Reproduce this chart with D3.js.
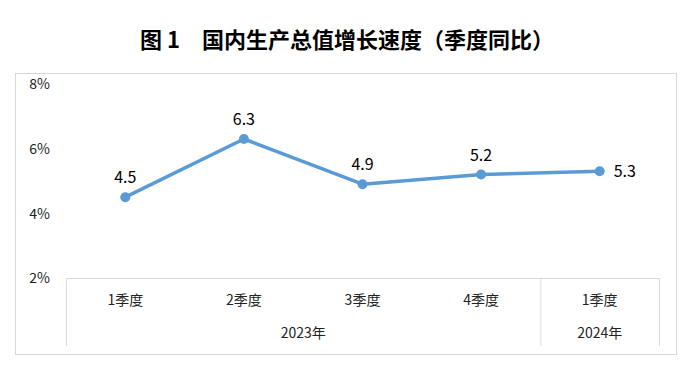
<!DOCTYPE html>
<html><head><meta charset="utf-8">
<script src="https://cdn.jsdelivr.net/npm/d3@7"></script>
<style>body{margin:0;background:#fff}</style>
</head><body>
<svg id="c" width="695" height="371"></svg>
<script>
const quarters = ["1季度","2季度","3季度","4季度","1季度"];
const years = [{label:"2023年", count:4},{label:"2024年", count:1}];
const values = [4.5, 6.3, 4.9, 5.2, 5.3];
const yTicks = [2, 4, 6, 8];
const title = "图 1　国内生产总值增长速度（季度同比）";

const svg = d3.select("#c");
const cjk = "'Noto Sans CJK SC', sans-serif";

svg.append("text").attr("x", 347).attr("y", 48).attr("text-anchor","middle")
  .attr("font-family", "'Noto Sans CJK SC', serif").attr("font-weight","bold")
  .attr("font-size", 22).attr("fill","#000").text(title);

svg.append("rect").attr("x",15.5).attr("y",73.5).attr("width",661).attr("height",281)
  .attr("fill","none").attr("stroke","#d9d9d9");

const x0 = 66, x1 = 659, yTop = 84, yBot = 278;
const x = d3.scaleBand().domain(d3.range(quarters.length)).range([x0, x1]).padding(0);
const y = d3.scaleLinear().domain([2, 8]).range([yBot, yTop]);

const yAxis = d3.axisLeft(y).tickValues(yTicks).tickFormat(d => d + "%").tickSize(0).tickPadding(0);
const ya = svg.append("g").attr("transform", "translate(50,0)").call(yAxis);
ya.select(".domain").remove();
ya.selectAll("text").attr("font-family", cjk).attr("font-size", 14).attr("fill","#222")
  .attr("dy","0.35em");

const g = svg.append("g").attr("stroke","#d9d9d9").attr("fill","none");
g.append("line").attr("x1",x0).attr("x2",x1).attr("y1",yBot+0.5).attr("y2",yBot+0.5);
let idx = 0;
const bounds = [0];
years.forEach(yr => { idx += yr.count; bounds.push(idx); });
bounds.forEach(b => {
  const xx = (b < quarters.length ? x(b) : x1) + 0.5;
  g.append("line").attr("x1",xx).attr("x2",xx).attr("y1",yBot).attr("y2",346);
});

svg.append("g").selectAll("text").data(quarters).join("text")
  .attr("x",(d,i)=>x(i)+x.bandwidth()/2).attr("y",305).attr("text-anchor","middle")
  .attr("font-family",cjk).attr("font-size",14).attr("fill","#222").text(d=>d);

svg.append("g").selectAll("text").data(years).join("text")
  .attr("x",(d,i)=>{ const s=bounds[i], e=bounds[i+1]; return (x(s) + (e<quarters.length?x(e):x1))/2; })
  .attr("y",338).attr("text-anchor","middle")
  .attr("font-family",cjk).attr("font-size",14).attr("fill","#222").text(d=>d.label);

const cx = i => x(i) + x.bandwidth()/2;
const line = d3.line().x((d,i)=>cx(i)).y(d=>y(d));
svg.append("path").datum(values).attr("d",line).attr("fill","none")
  .attr("stroke","#5b9bd5").attr("stroke-width",3.5).attr("stroke-linejoin","round");
svg.append("g").selectAll("circle").data(values).join("circle")
  .attr("cx",(d,i)=>cx(i)).attr("cy",d=>y(d)).attr("r",5).attr("fill","#5b9bd5");

svg.append("g").selectAll("text").data(values).join("text")
  .attr("x",(d,i)=> i===values.length-1 ? cx(i)+14 : cx(i))
  .attr("y",(d,i)=> i===values.length-1 ? y(d) : y(d)-14)
  .attr("dy",(d,i)=> i===values.length-1 ? "0.35em" : "0")
  .attr("text-anchor",(d,i)=> i===values.length-1 ? "start" : "middle")
  .attr("font-family",cjk).attr("font-size",16).attr("fill","#000")
  .text(d=>d.toFixed(1));
</script>
</body></html>
